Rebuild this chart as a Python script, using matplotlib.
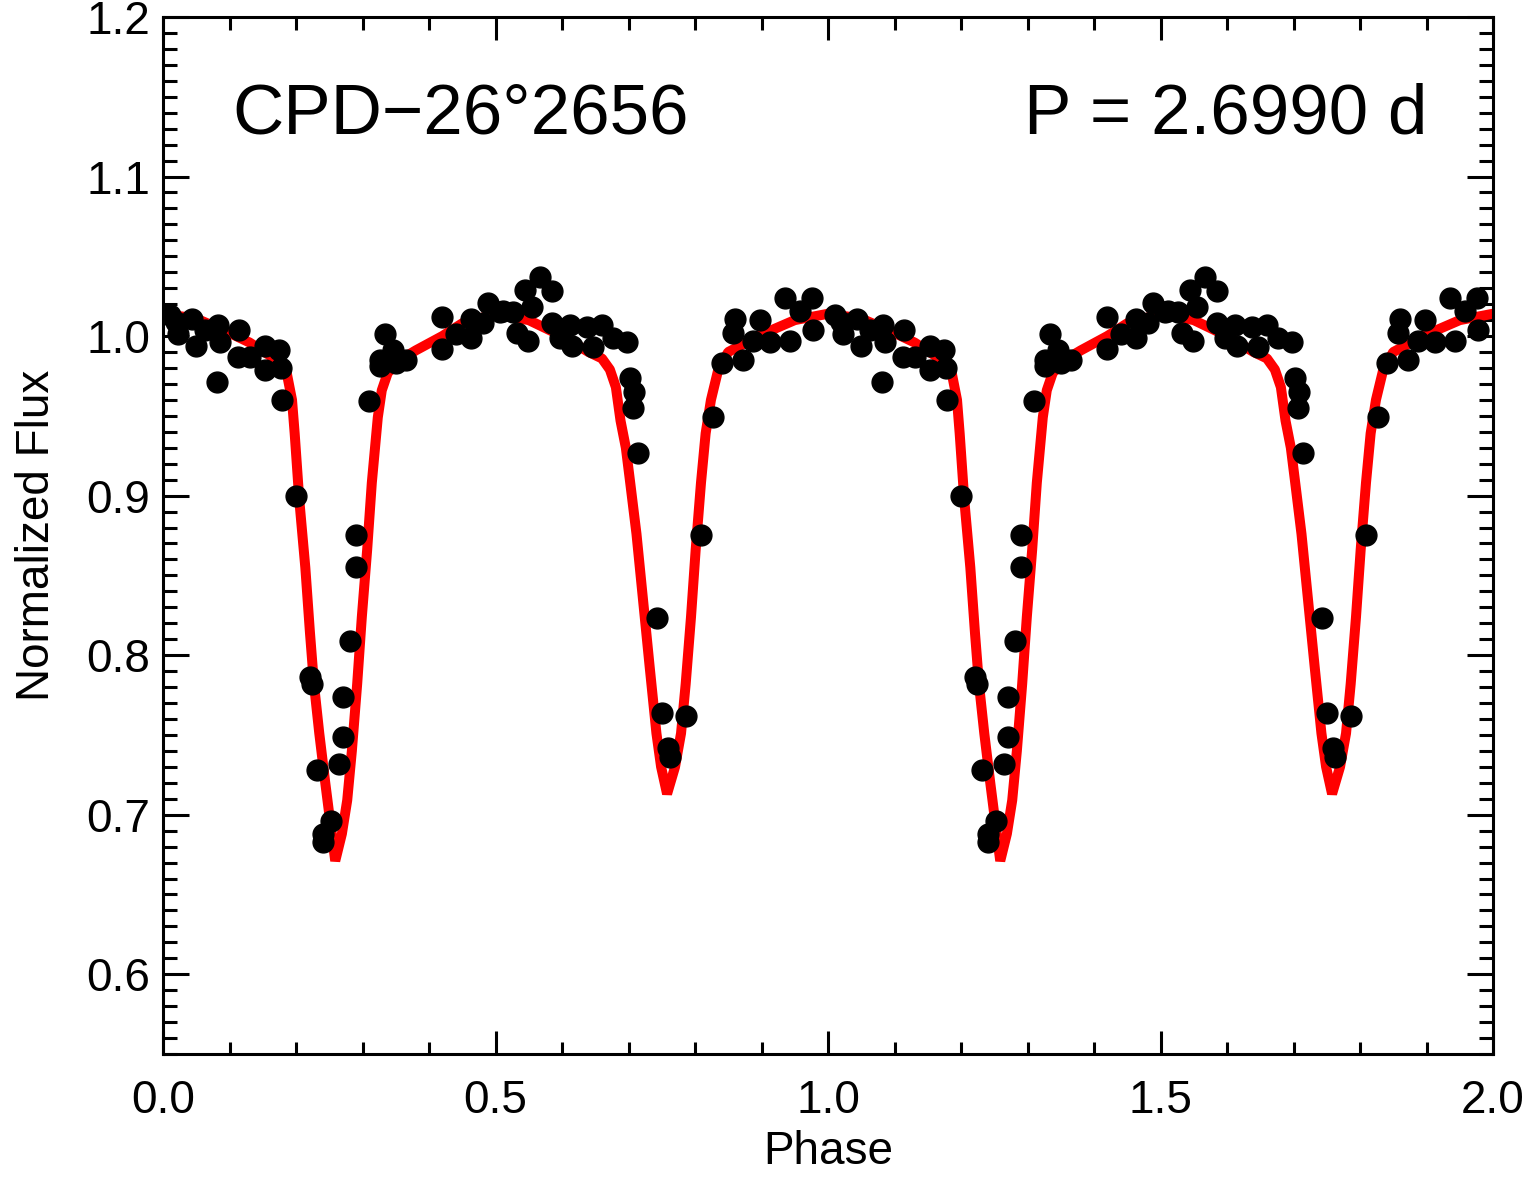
import matplotlib
matplotlib.use("Agg")
import matplotlib.pyplot as plt
from matplotlib.ticker import MultipleLocator
import numpy as np

plt.rcParams['font.family'] = ['Liberation Sans', 'DejaVu Sans']

# Observed points, phase 0-1 (repeated at phase 1-2)
obs_phase = [0.011, 0.020, 0.023, 0.044, 0.050, 0.063, 0.083, 0.086, 0.081, 0.114,
             0.113, 0.131, 0.153, 0.153, 0.174, 0.177, 0.179, 0.200, 0.221, 0.224,
             0.232, 0.241, 0.241, 0.253, 0.265, 0.271, 0.271, 0.281, 0.290, 0.290,
             0.310, 0.334, 0.326, 0.326, 0.350, 0.365, 0.346, 0.420, 0.420, 0.441,
             0.463, 0.463, 0.481, 0.489, 0.507, 0.511, 0.526, 0.544, 0.567, 0.585,
             0.555, 0.532, 0.549, 0.585, 0.597, 0.612, 0.615, 0.638, 0.647, 0.660,
             0.677, 0.698, 0.702, 0.708, 0.707, 0.714, 0.743, 0.750, 0.759, 0.762,
             0.786, 0.809, 0.827, 0.841, 0.860, 0.872, 0.857, 0.898, 0.887, 0.913,
             0.935, 0.943, 0.976, 0.977, 0.958]
obs_flux = [1.013, 1.009, 1.001, 1.011, 0.994, 1.004, 1.007, 0.996, 0.971, 1.004,
            0.987, 0.987, 0.994, 0.979, 0.991, 0.980, 0.960, 0.900, 0.786, 0.782,
            0.728, 0.688, 0.683, 0.696, 0.732, 0.749, 0.774, 0.809, 0.855, 0.875,
            0.959, 1.001, 0.985, 0.981, 0.983, 0.985, 0.991, 1.012, 0.992, 1.001,
            1.011, 0.999, 1.008, 1.021, 1.015, 1.016, 1.015, 1.029, 1.037, 1.028,
            1.018, 1.002, 0.997, 1.008, 0.999, 1.007, 0.994, 1.006, 0.993, 1.007,
            0.999, 0.996, 0.974, 0.965, 0.955, 0.927, 0.823, 0.764, 0.742, 0.736,
            0.762, 0.875, 0.949, 0.983, 1.011, 0.985, 1.002, 1.010, 0.997, 0.996,
            1.024, 0.997, 1.024, 1.004, 1.016]

# Model light curve, phase 0-1 (repeated at phase 1-2)
model_phase = [0.000, 0.050, 0.100, 0.130, 0.160, 0.175, 0.186, 0.194, 0.198, 0.205,
               0.214, 0.221, 0.227, 0.235, 0.244, 0.251, 0.259, 0.269, 0.277, 0.284,
               0.292, 0.299, 0.307, 0.314, 0.323, 0.329, 0.338, 0.360, 0.380, 0.420,
               0.450, 0.500, 0.550, 0.600, 0.640, 0.660, 0.672, 0.681, 0.688, 0.696,
               0.702, 0.712, 0.722, 0.732, 0.742, 0.749, 0.758, 0.770, 0.779, 0.786,
               0.794, 0.801, 0.809, 0.816, 0.824, 0.835, 0.850, 0.900, 0.950, 1.000]
model_flux = [1.014, 1.011, 1.002, 0.996, 0.988, 0.983, 0.977, 0.960, 0.939, 0.897,
              0.855, 0.814, 0.782, 0.751, 0.720, 0.697, 0.671, 0.688, 0.709, 0.740,
              0.782, 0.824, 0.866, 0.908, 0.949, 0.966, 0.977, 0.986, 0.991, 1.000,
              1.008, 1.014, 1.010, 1.000, 0.990, 0.986, 0.979, 0.968, 0.947, 0.930,
              0.910, 0.876, 0.834, 0.792, 0.751, 0.730, 0.713, 0.730, 0.751, 0.782,
              0.824, 0.866, 0.908, 0.939, 0.960, 0.979, 0.990, 1.001, 1.010, 1.014]

xticks = [0.0, 0.5, 1.0, 1.5, 2.0]
yticks = [0.6, 0.7, 0.8, 0.9, 1.0, 1.1, 1.2]

op = np.array(obs_phase); of = np.array(obs_flux)
mp = np.array(model_phase); mf = np.array(model_flux)
mp2 = np.concatenate([mp, mp[1:] + 1.0]); mf2 = np.concatenate([mf, mf[1:]])
op2 = np.concatenate([op, op + 1.0]); of2 = np.concatenate([of, of])

fig = plt.figure(figsize=(15.35, 11.77), dpi=100)
ax = fig.add_axes([163/1535, 1 - 1054/1177, (1493-163)/1535, (1054-17)/1177])

ax.plot(mp2, mf2, color='#ff0000', lw=7.2, solid_joinstyle='bevel', zorder=2)
ax.plot(op2, of2, 'o', color='black', ms=15, mec='black', zorder=3)

ax.set_xlim(0, 2)
ax.set_ylim(0.55, 1.2)
ax.set_xticks(xticks)
ax.set_xticklabels([f"{v:.1f}" for v in xticks])
ax.set_yticks(yticks)
ax.set_yticklabels([f"{v:.1f}" for v in yticks])
ax.xaxis.set_minor_locator(MultipleLocator(0.1))
ax.yaxis.set_minor_locator(MultipleLocator(0.01))

for s in ax.spines.values():
    s.set_linewidth(2.2)
ax.tick_params(axis='both', which='both', direction='in', top=True, right=True,
               width=2.2, labelsize=33)
ax.tick_params(axis='x', which='major', length=16.5, pad=18)
ax.tick_params(axis='x', which='minor', length=9)
ax.tick_params(axis='y', which='major', length=19, pad=9)
ax.tick_params(axis='y', which='minor', length=10)

ax.set_xlabel('Phase', fontsize=33, labelpad=5)
ax.set_ylabel('Normalized Flux', fontsize=33, labelpad=20)

ax.text(0.104, 1.127, 'CPD\u221226\u00b02656', fontsize=51, ha='left', va='baseline')
ax.text(1.901, 1.127, 'P = 2.6990 d', fontsize=51, ha='right', va='baseline')

fig.savefig('out.png', dpi=100)
